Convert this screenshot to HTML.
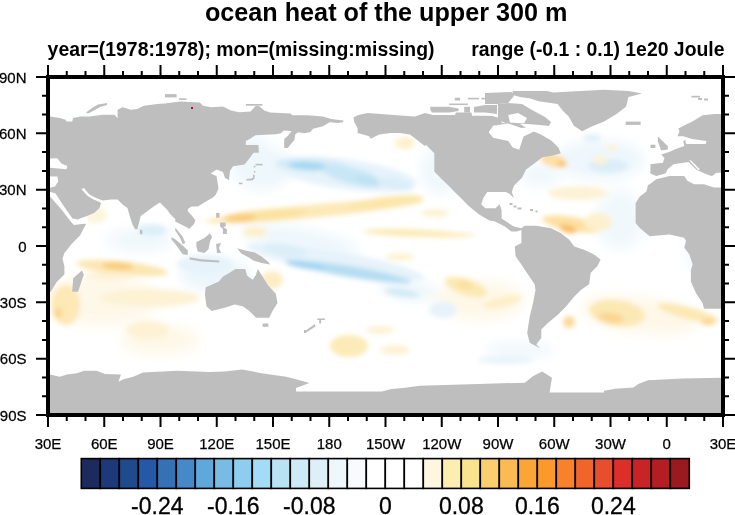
<!DOCTYPE html>
<html><head><meta charset="utf-8"><style>
html,body{margin:0;padding:0;background:#fff;width:735px;height:515px;overflow:hidden}
body{position:relative}
text{font-family:"Liberation Sans",sans-serif}
svg{will-change:transform}
.ax{font-size:15px;fill:#000;stroke:#000;stroke-width:0.25px}
.cb{font-size:23px;fill:#000;stroke:#000;stroke-width:0.3px}
.t1{font-size:25.2px;font-weight:bold;fill:#000}
.t2{font-size:19.4px;font-weight:bold;fill:#000}
</style></head><body>
<svg width="735" height="515" viewBox="0 0 735 515" style="position:absolute;left:0;top:0">
<defs><clipPath id="mc"><rect x="50" y="79" width="671" height="334"/></clipPath><filter id="bl" x="-50%" y="-50%" width="200%" height="200%"><feGaussianBlur stdDeviation="2.5"/></filter><filter id="bl2" x="-50%" y="-50%" width="200%" height="200%"><feGaussianBlur stdDeviation="6"/></filter></defs>
<g clip-path="url(#mc)">
<rect x="50" y="79" width="671" height="334" fill="#fff"/>
<g filter="url(#bl)">
<g filter="url(#bl2)">
<ellipse cx="262" cy="168" rx="30" ry="22" transform="rotate(0 262 168)" fill="#eef7fc"/>
<ellipse cx="245" cy="150" rx="25" ry="15" transform="rotate(0 245 150)" fill="#eef7fc"/>
<ellipse cx="300" cy="240" rx="60" ry="12" transform="rotate(10 300 240)" fill="#eef7fc"/>
<ellipse cx="215" cy="275" rx="35" ry="15" transform="rotate(0 215 275)" fill="#eaf5fb"/>
<ellipse cx="140" cy="240" rx="35" ry="12" transform="rotate(0 140 240)" fill="#f0f8fc"/>
<ellipse cx="620" cy="220" rx="25" ry="30" transform="rotate(0 620 220)" fill="#f1f8fc"/>
<ellipse cx="600" cy="160" rx="45" ry="20" transform="rotate(0 600 160)" fill="#eef7fc"/>
<ellipse cx="80" cy="128" rx="25" ry="5" transform="rotate(-10 80 128)" fill="#f0f8fc"/>
<ellipse cx="440" cy="170" rx="20" ry="25" transform="rotate(0 440 170)" fill="#f0f8fc"/>
<ellipse cx="520" cy="350" rx="35" ry="7" transform="rotate(0 520 350)" fill="#eef6fb"/>
<ellipse cx="700" cy="245" rx="15" ry="30" transform="rotate(0 700 245)" fill="#f2f8fc"/>
<ellipse cx="410" cy="290" rx="30" ry="10" transform="rotate(8 410 290)" fill="#eef7fc"/>
<ellipse cx="540" cy="175" rx="20" ry="12" transform="rotate(0 540 175)" fill="#f0f8fc"/>
<ellipse cx="100" cy="300" rx="60" ry="25" transform="rotate(0 100 300)" fill="#fef8e8"/>
<ellipse cx="160" cy="340" rx="40" ry="15" transform="rotate(0 160 340)" fill="#fef8e8"/>
<ellipse cx="480" cy="300" rx="45" ry="20" transform="rotate(0 480 300)" fill="#fef8e8"/>
<ellipse cx="640" cy="315" rx="60" ry="18" transform="rotate(8 640 315)" fill="#fef8e8"/>
</g>
<ellipse cx="345" cy="174" rx="72" ry="15" transform="rotate(8 345 174)" fill="#e6f3fb"/>
<ellipse cx="312" cy="165" rx="36" ry="6" transform="rotate(3 312 165)" fill="#d2ebf7"/>
<ellipse cx="308" cy="166" rx="20" ry="4" transform="rotate(3 308 166)" fill="#a5d6f1"/>
<ellipse cx="352" cy="176" rx="30" ry="8" transform="rotate(14 352 176)" fill="#c9e6f6"/>
<ellipse cx="368" cy="181" rx="14" ry="5" transform="rotate(12 368 181)" fill="#bfe2f4"/>
<ellipse cx="395" cy="184" rx="18" ry="6" transform="rotate(12 395 184)" fill="#dbeef8"/>
<ellipse cx="315" cy="211" rx="110" ry="6.5" transform="rotate(-5.5 315 211)" fill="#fce9b8"/>
<ellipse cx="265" cy="215" rx="42" ry="5.5" transform="rotate(-5 265 215)" fill="#fce2a0"/>
<ellipse cx="240" cy="218" rx="16" ry="4.5" transform="rotate(-3 240 218)" fill="#f9cd7c"/>
<ellipse cx="385" cy="202" rx="38" ry="5" transform="rotate(-7 385 202)" fill="#fce5a8"/>
<ellipse cx="413" cy="233" rx="50" ry="3.5" transform="rotate(2 413 233)" fill="#fce8b0"/>
<ellipse cx="445" cy="235" rx="30" ry="2.5" transform="rotate(0 445 235)" fill="#fcebb8"/>
<ellipse cx="400" cy="257" rx="15" ry="3" transform="rotate(0 400 257)" fill="#fdf0c8"/>
<ellipse cx="255" cy="232" rx="12" ry="5" transform="rotate(0 255 232)" fill="#fdf0c8"/>
<ellipse cx="335" cy="262" rx="90" ry="11" transform="rotate(10 335 262)" fill="#e6f3fa"/>
<ellipse cx="352" cy="272" rx="60" ry="5.5" transform="rotate(9.5 352 272)" fill="#b5ddf2"/>
<ellipse cx="305" cy="265" rx="20" ry="3.5" transform="rotate(9 305 265)" fill="#a2d4f0"/>
<ellipse cx="285" cy="250" rx="22" ry="6" transform="rotate(10 285 250)" fill="#dceef8"/>
<ellipse cx="402" cy="293" rx="18" ry="4" transform="rotate(8 402 293)" fill="#d3eaf6"/>
<ellipse cx="122" cy="268" rx="46" ry="6.5" transform="rotate(6 122 268)" fill="#fce6b0"/>
<ellipse cx="118" cy="266" rx="16" ry="4" transform="rotate(4 118 266)" fill="#f9cd7a"/>
<ellipse cx="152" cy="230" rx="15" ry="6" transform="rotate(0 152 230)" fill="#ddeff9"/>
<ellipse cx="205" cy="264" rx="28" ry="9" transform="rotate(0 205 264)" fill="#e6f3fa"/>
<ellipse cx="150" cy="298" rx="50" ry="9" transform="rotate(0 150 298)" fill="#fdf2d4"/>
<ellipse cx="66" cy="305" rx="14" ry="20" transform="rotate(0 66 305)" fill="#fde8b6"/>
<ellipse cx="58" cy="313" rx="4" ry="5" transform="rotate(0 58 313)" fill="#fad38a"/>
<ellipse cx="148" cy="330" rx="22" ry="9" transform="rotate(0 148 330)" fill="#fdf2d4"/>
<ellipse cx="272" cy="280" rx="11" ry="9" transform="rotate(0 272 280)" fill="#fdedc4"/>
<ellipse cx="110" cy="276" rx="25" ry="4" transform="rotate(0 110 276)" fill="#fdf2d4"/>
<ellipse cx="95" cy="215" rx="12" ry="8" transform="rotate(0 95 215)" fill="#fdf4dc"/>
<ellipse cx="349" cy="346" rx="19" ry="11" transform="rotate(0 349 346)" fill="#fcebb6"/>
<ellipse cx="466" cy="287" rx="22" ry="8" transform="rotate(18 466 287)" fill="#fce9b4"/>
<ellipse cx="465" cy="285" rx="8" ry="4" transform="rotate(10 465 285)" fill="#fbdf9e"/>
<ellipse cx="502" cy="302" rx="20" ry="5" transform="rotate(-12 502 302)" fill="#fdefc6"/>
<ellipse cx="443" cy="310" rx="14" ry="8" transform="rotate(0 443 310)" fill="#e6f3fa"/>
<ellipse cx="505" cy="360" rx="28" ry="4" transform="rotate(0 505 360)" fill="#e8f4fb"/>
<ellipse cx="380" cy="330" rx="14" ry="4" transform="rotate(0 380 330)" fill="#fdf2d4"/>
<ellipse cx="395" cy="350" rx="15" ry="5" transform="rotate(0 395 350)" fill="#fdf2d4"/>
<ellipse cx="405" cy="143" rx="10" ry="6" transform="rotate(0 405 143)" fill="#fdf0cc"/>
<ellipse cx="435" cy="213" rx="14" ry="3.5" transform="rotate(0 435 213)" fill="#fdf0cc"/>
<ellipse cx="553" cy="160" rx="13" ry="7" transform="rotate(15 553 160)" fill="#fce0a6"/>
<ellipse cx="562" cy="164" rx="5" ry="3" transform="rotate(0 562 164)" fill="#f8bf62"/>
<ellipse cx="608" cy="166" rx="20" ry="7" transform="rotate(0 608 166)" fill="#dcedf8"/>
<ellipse cx="592" cy="138" rx="9" ry="4" transform="rotate(0 592 138)" fill="#e2f0f9"/>
<ellipse cx="578" cy="193" rx="30" ry="7" transform="rotate(0 578 193)" fill="#fdf2d6"/>
<ellipse cx="572" cy="224" rx="30" ry="7" transform="rotate(10 572 224)" fill="#fce0a2"/>
<ellipse cx="568" cy="229" rx="9" ry="3.5" transform="rotate(15 568 229)" fill="#f8b85a"/>
<ellipse cx="598" cy="222" rx="14" ry="9" transform="rotate(0 598 222)" fill="#fdf0cc"/>
<ellipse cx="617" cy="313" rx="28" ry="13" transform="rotate(8 617 313)" fill="#fce8b4"/>
<ellipse cx="611" cy="318" rx="13" ry="5" transform="rotate(8 611 318)" fill="#fad692"/>
<ellipse cx="688" cy="313" rx="32" ry="6" transform="rotate(15 688 313)" fill="#fce8b4"/>
<ellipse cx="708" cy="322" rx="7" ry="3" transform="rotate(0 708 322)" fill="#faD38a"/>
<ellipse cx="569" cy="322" rx="6" ry="6" transform="rotate(0 569 322)" fill="#fbd998"/>
<ellipse cx="600" cy="160" rx="8" ry="4" transform="rotate(0 600 160)" fill="#fdf2d4"/>
<ellipse cx="612" cy="148" rx="6" ry="3" transform="rotate(0 612 148)" fill="#fdf2d4"/>
</g>
<path d="M49.0,116.4 L59.9,118.1 L65.6,119.7 L66.5,121.4 L72.2,121.4 L73.1,118.1 L80.5,116.4 L89.6,116.4 L102.8,114.8 L114.3,114.8 L117.6,118.1 L117.6,109.8 L122.6,107.3 L130.8,109.8 L137.4,109.0 L144.0,105.7 L157.2,104.0 L165.0,103.6 L179.9,101.6 L199.7,102.4 L203.0,105.7 L211.2,107.3 L222.8,106.5 L231.0,110.6 L239.3,112.3 L250.7,111.5 L255.5,106.0 L259.0,106.0 L264.3,110.5 L270.1,112.4 L290.5,113.4 L292.4,115.3 L308.0,115.3 L323.0,116.4 L331.2,118.9 L343.6,120.5 L342.8,122.2 L337.8,123.0 L329.6,122.2 L323.0,126.3 L313.1,128.8 L310.0,132.3 L304.1,133.3 L298.3,132.3 L295.3,134.3 L294.4,140.1 L287.6,147.9 L284.2,147.9 L284.2,139.1 L288.5,135.2 L291.5,130.9 L283.7,130.4 L280.8,133.3 L275.9,134.3 L255.5,135.2 L249.7,139.1 L245.8,141.1 L245.8,145.0 L258.4,145.0 L258.9,152.7 L253.6,152.7 L249.7,158.0 L244.6,164.6 L233.0,166.2 L230.0,171.0 L229.0,180.0 L225.0,178.0 L223.0,172.0 L216.5,169.5 L210.7,173.6 L216.5,176.1 L218.5,188.8 L215.6,195.0 L213.0,197.5 L204.2,202.6 L197.9,206.4 L191.6,206.4 L187.8,208.9 L187.8,211.4 L191.6,215.2 L195.4,220.3 L194.1,224.0 L189.0,229.1 L187.8,227.8 L180.2,224.0 L175.2,221.5 L175.2,219.0 L170.1,214.0 L167.6,210.2 L160.0,202.6 L154.0,206.2 L147.3,211.2 L140.7,216.1 L137.4,229.3 L135.0,229.3 L132.5,224.4 L129.2,214.5 L127.5,207.9 L122.6,204.6 L117.6,199.6 L111.0,199.6 L102.8,200.4 L96.2,198.0 L89.6,194.7 L83.8,188.1 L81.3,188.9 L87.1,195.5 L92.0,198.8 L97.8,201.3 L101.1,202.9 L99.5,207.9 L94.5,212.8 L84.6,217.0 L78.0,219.5 L86.0,223.9 L80.0,235.5 L72.2,243.3 L64.4,253.0 L62.5,258.8 L64.4,266.6 L64.4,274.4 L56.7,282.1 L50.8,291.8 L49.0,292.0Z" fill="#bebebe"/>
<path d="M139.9,229.3 L142.4,230.5 L142.4,234.3 L140.0,234.3Z" fill="#bebebe"/>
<path d="M81.9,270.5 L83.8,274.4 L80.0,286.0 L78.0,291.8 L72.2,291.8 L73.2,278.3Z" fill="#bebebe"/>
<path d="M171.4,237.3 L175.2,239.2 L182.7,245.5 L187.8,250.6 L187.8,255.0 L182.7,254.3 L176.4,245.5 L171.4,239.2Z" fill="#bebebe"/>
<path d="M175.2,227.8 L177.7,230.4 L182.7,236.7 L185.3,243.0 L182.7,244.2 L180.2,237.9 L175.2,230.4Z" fill="#bebebe"/>
<path d="M196.4,242.1 L204.5,238.0 L209.9,233.3 L212.0,236.7 L209.9,242.1 L208.6,248.9 L204.5,253.0 L197.7,251.6 L196.4,246.2Z" fill="#bebebe"/>
<path d="M189.6,257.2 L201.2,259.2 L219.3,260.6 L219.3,262.6 L201.2,261.4 L189.6,259.4Z" fill="#bebebe"/>
<path d="M216.0,244.0 L221.0,243.0 L219.0,248.0 L221.0,253.0 L217.0,253.0Z" fill="#bebebe"/>
<path d="M237.1,248.2 L245.3,250.5 L254.8,252.5 L261.6,256.5 L268.4,262.0 L270.0,264.5 L261.6,263.0 L253.4,260.5 L248.0,257.0 L241.2,253.5Z" fill="#bebebe"/>
<path d="M216.1,212.9 L219.5,212.9 L219.5,217.7 L216.1,217.7Z" fill="#bebebe"/>
<path d="M220.1,222.4 L225.6,222.4 L225.6,226.5 L223.0,227.0 L226.9,229.2 L226.9,234.0 L222.9,234.0 L222.9,229.0 L220.1,226.5Z" fill="#bebebe"/>
<path d="M255.6,163.8 L262.6,163.8 L262.6,165.4 L255.6,165.4Z" fill="#bebebe"/>
<path d="M253.0,174.8 L254.6,174.8 L254.6,178.5 L252.2,180.6 L246.3,180.6 L246.3,178.9 L251.5,178.6 L253.0,177.5Z" fill="#bebebe"/>
<path d="M238.9,182.6 L242.4,182.6 L242.4,184.2 L238.9,184.2Z" fill="#bebebe"/>
<path d="M253.8,165.8 L255.4,165.8 L255.4,167.4 L253.8,167.4Z" fill="#bebebe"/>
<path d="M253.9,171.0 L255.3,171.0 L255.3,172.6 L253.9,172.6Z" fill="#bebebe"/>
<path d="M205.7,287.2 L211.5,284.7 L218.9,281.4 L223.0,276.5 L228.8,273.2 L235.4,269.0 L245.3,269.0 L247.0,275.6 L252.7,279.8 L256.0,274.8 L257.7,269.0 L262.6,276.5 L267.6,284.7 L275.8,293.8 L277.5,302.9 L272.5,311.1 L269.2,317.7 L256.0,317.7 L249.4,311.1 L242.8,306.2 L234.6,304.5 L224.7,307.8 L211.5,311.1 L206.5,306.2 L204.9,294.6Z" fill="#bebebe"/>
<path d="M262.6,323.5 L268.4,323.5 L268.4,326.8 L262.6,326.8Z" fill="#bebebe"/>
<path d="M304.1,331.7 L314.8,324.1 L315.5,326.6 L306.6,332.3Z" fill="#bebebe"/>
<path d="M317.3,318.4 L324.9,318.4 L324.9,319.9 L321.1,320.0 L321.1,323.5 L319.2,323.5 L319.2,319.9 L317.3,319.9Z" fill="#bebebe"/>
<path d="M304.0,330.0 L306.0,330.0 L306.0,333.0 L304.0,333.0Z" fill="#bebebe"/>
<path d="M49.0,374.4 L59.7,376.8 L67.0,374.4 L76.8,373.2 L84.2,370.7 L96.4,370.7 L105.0,373.9 L120.9,374.4 L118.5,381.7 L123.4,379.3 L133.2,376.8 L143.0,372.4 L177.3,370.7 L209.1,371.9 L225.0,371.4 L242.1,369.5 L261.7,373.2 L286.2,376.8 L296.0,379.3 L309.5,383.0 L296.0,387.9 L296.0,391.5 L381.7,391.5 L391.5,389.1 L405.0,387.8 L419.7,385.8 L478.5,383.9 L525.0,382.7 L532.4,376.5 L542.2,371.6 L552.0,377.8 L549.5,392.5 L604.0,392.5 L604.0,390.7 L615.0,388.8 L633.4,387.6 L638.3,383.9 L648.1,380.2 L682.4,378.5 L722.0,377.8 L722.0,414.0 L49.0,414.0Z" fill="#bebebe"/>
<path d="M353.5,117.2 L359.3,114.8 L367.5,113.1 L380.7,113.9 L400.0,115.5 L414.9,116.4 L425.0,113.0 L433.0,115.0 L455.0,115.0 L456.0,112.5 L471.5,112.5 L472.0,115.8 L485.0,115.8 L492.4,116.0 L499.0,118.0 L502.3,123.0 L520.0,124.0 L530.1,130.0 L541.0,134.4 L551.8,140.9 L558.4,147.5 L560.8,153.2 L552.0,155.8 L542.4,157.2 L534.3,163.4 L526.1,169.5 L522.0,177.7 L513.9,185.8 L511.8,191.9 L513.9,198.1 L509.8,194.0 L505.7,191.9 L487.3,191.9 L483.3,198.1 L481.2,204.2 L485.3,208.3 L495.5,208.3 L499.6,204.2 L501.6,210.3 L501.6,218.5 L507.8,222.6 L513.9,226.6 L521.4,228.2 L524.7,225.7 L536.3,225.7 L551.1,228.2 L561.0,233.2 L569.3,239.8 L574.2,246.4 L584.1,249.7 L594.0,254.6 L600.6,259.6 L597.3,266.2 L590.7,272.8 L589.1,284.3 L580.9,290.0 L574.3,296.6 L566.0,306.5 L557.8,314.8 L547.9,323.0 L541.3,329.6 L541.3,337.9 L536.3,344.5 L540.4,348.6 L529.7,342.8 L527.2,332.9 L529.7,316.4 L533.0,303.2 L535.5,290.0 L534.6,284.3 L528.0,274.4 L521.4,264.5 L515.6,256.3 L514.8,246.4 L521.4,243.1 L521.4,229.9 L516.5,231.5 L511.5,231.5 L504.9,226.6 L495.0,221.6 L489.4,220.5 L479.2,214.4 L469.0,206.2 L462.9,200.1 L454.7,191.9 L448.6,185.8 L440.4,177.7 L434.3,171.5 L434.3,153.2 L426.1,145.0 L424.8,146.1 L416.5,139.5 L409.9,134.5 L400.0,132.9 L390.6,132.9 L379.1,134.6 L374.1,137.0 L370.8,138.7 L369.2,136.2 L357.6,132.9 L357.6,128.0 L354.3,122.2Z" fill="#bebebe"/>
<path d="M498.0,104.0 L508.0,103.0 L522.0,104.0 L532.0,110.0 L545.0,117.0 L551.0,122.0 L549.0,126.0 L540.0,125.0 L527.0,124.0 L508.0,124.0 L498.0,120.0Z" fill="#bebebe"/>
<path d="M485.0,93.0 L512.0,92.0 L514.0,96.0 L508.0,103.0 L498.0,104.0 L485.0,104.0Z" fill="#bebebe"/>
<path d="M430.3,106.8 L449.0,106.8 L458.5,108.5 L458.5,111.0 L449.0,112.5 L432.0,112.5 L430.3,110.0Z" fill="#bebebe"/>
<path d="M464.2,106.8 L470.0,106.8 L470.0,112.5 L464.2,112.5Z" fill="#bebebe"/>
<path d="M474.0,107.0 L485.0,105.0 L497.0,105.0 L497.0,114.0 L485.0,112.5 L474.0,112.5Z" fill="#bebebe"/>
<path d="M449.1,103.5 L467.9,103.5 L467.9,105.1 L449.1,105.1Z" fill="#bebebe"/>
<path d="M454.8,97.8 L460.1,97.8 L460.1,100.5 L454.8,100.5Z" fill="#bebebe"/>
<path d="M467.9,97.8 L478.9,97.8 L478.9,99.4 L467.9,99.4Z" fill="#bebebe"/>
<path d="M481.3,97.8 L485.0,97.8 L485.0,99.4 L481.3,99.4Z" fill="#bebebe"/>
<path d="M512.7,91.1 L546.7,91.1 L553.5,92.5 L604.0,89.7 L628.5,90.9 L642.0,93.4 L628.5,97.0 L626.0,106.8 L616.2,114.2 L604.0,121.5 L591.7,126.4 L582.1,131.3 L573.9,125.8 L568.5,116.3 L563.0,110.9 L557.6,104.0 L538.5,101.3 L530.4,98.6 L520.0,97.0 L512.7,95.0Z" fill="#bebebe"/>
<path d="M625.7,121.6 L640.6,121.6 L640.6,124.9 L625.7,124.9Z" fill="#bebebe"/>
<path d="M691.5,95.8 L700.0,95.8 L700.0,97.5 L691.5,97.5Z" fill="#bebebe"/>
<path d="M698.0,98.0 L702.0,98.0 L702.0,100.0 L698.0,100.0Z" fill="#bebebe"/>
<path d="M704.0,98.5 L708.0,98.5 L708.0,100.5 L704.0,100.5Z" fill="#bebebe"/>
<path d="M86.0,112.5 L92.0,108.0 L98.0,104.5 L107.0,103.0 L107.0,105.0 L100.0,107.0 L94.0,110.5 L88.0,113.5Z" fill="#bebebe"/>
<path d="M165.0,94.1 L176.6,94.1 L176.6,97.4 L165.0,97.4Z" fill="#bebebe"/>
<path d="M179.0,98.3 L186.5,98.3 L186.5,99.9 L179.0,99.9Z" fill="#bebebe"/>
<path d="M245.9,104.0 L262.4,104.0 L262.4,105.7 L245.9,105.7Z" fill="#bebebe"/>
<path d="M722.0,113.9 L714.4,113.9 L702.7,115.3 L692.0,121.7 L686.2,124.6 L678.4,128.4 L679.4,131.4 L677.5,136.2 L683.3,136.2 L692.0,139.1 L706.6,141.1 L705.6,144.0 L686.2,144.0 L685.2,140.1 L683.3,141.1 L684.3,145.9 L676.5,148.8 L669.7,151.7 L661.2,154.6 L664.5,157.9 L662.9,162.8 L650.4,164.3 L650.4,173.5 L656.2,175.9 L665.4,173.5 L667.8,168.9 L673.5,164.3 L688.6,162.0 L696.7,170.1 L704.8,173.5 L708.2,175.0 L710.0,175.5 L712.0,176.0 L716.0,173.0 L722.0,172.5Z" fill="#bebebe"/>
<path d="M657.9,136.4 L661.2,139.7 L667.8,146.3 L667.8,149.6 L661.2,150.4 L659.6,146.3 L657.9,141.4Z" fill="#bebebe"/>
<path d="M650.5,144.7 L655.4,144.7 L655.4,148.0 L650.5,148.0Z" fill="#bebebe"/>
<path d="M722.0,187.6 L714.0,187.6 L704.1,184.3 L694.2,184.3 L687.6,181.0 L684.3,176.0 L669.5,176.0 L656.3,179.3 L649.7,184.3 L648.0,185.0 L646.4,191.6 L639.8,196.6 L635.6,203.2 L635.6,223.0 L639.8,227.9 L649.7,236.2 L669.5,234.5 L684.3,237.8 L686.0,241.1 L684.3,247.7 L689.3,254.3 L692.6,264.2 L690.9,269.9 L690.9,281.5 L695.9,293.0 L702.5,302.9 L704.1,308.7 L722.0,308.7Z" fill="#bebebe"/>
<path d="M509.5,203.0 L512.5,203.0 L512.5,205.0 L509.5,205.0Z" fill="#bebebe"/>
<path d="M513.5,205.5 L516.5,205.5 L516.5,207.5 L513.5,207.5Z" fill="#bebebe"/>
<path d="M517.5,207.5 L521.5,207.5 L521.5,209.5 L517.5,209.5Z" fill="#bebebe"/>
<path d="M530.0,209.0 L533.0,209.0 L533.0,211.0 L530.0,211.0Z" fill="#bebebe"/>
<path d="M535.5,210.5 L537.5,210.5 L537.5,212.5 L535.5,212.5Z" fill="#bebebe"/>
<path d="M49.0,158.5 L57.2,158.3 L61.5,163.5 L67.3,165.9 L66.5,169.2 L49.0,167.6Z" fill="#fff"/>
<path d="M49.0,176.5 L57.4,176.5 L58.2,181.5 L54.9,186.4 L49.0,188.1Z" fill="#fff"/>
<path d="M49.0,191.5 L55.5,193.5 L64.0,206.5 L72.5,218.5 L78.0,219.5 L86.0,216.5 L88.0,219.5 L86.0,223.5 L74.0,225.0 L71.0,222.0 L61.5,209.5 L49.0,195.5Z" fill="#fff"/>
<path d="M689.2,160.3 L690.8,160.3 L699.8,169.2 L698.4,170.2Z" fill="#fff"/>
<path d="M488.7,132.2 L493.1,125.7 L508.3,123.5 L521.4,127.9 L530.0,127.0 L535.0,131.0 L523.5,136.6 L519.2,149.7 L512.7,147.5 L508.3,141.0 L493.1,137.7Z" fill="#fff"/>
<path d="M508.2,115.0 L518.0,113.0 L527.0,118.0 L524.0,123.5 L510.0,122.5Z" fill="#fff"/>
<rect x="191" y="107" width="2" height="2" fill="#c8102e"/>
</g>
<rect x="48" y="77" width="675" height="338" fill="none" stroke="#000" stroke-width="4"/>
<path d="M48.00,65.0 V77.0 M48.00,415.0 V427.0 M66.75,71.0 V77.0 M66.75,415.0 V421.0 M85.50,71.0 V77.0 M85.50,415.0 V421.0 M104.25,65.0 V77.0 M104.25,415.0 V427.0 M123.00,71.0 V77.0 M123.00,415.0 V421.0 M141.75,71.0 V77.0 M141.75,415.0 V421.0 M160.50,65.0 V77.0 M160.50,415.0 V427.0 M179.25,71.0 V77.0 M179.25,415.0 V421.0 M198.00,71.0 V77.0 M198.00,415.0 V421.0 M216.75,65.0 V77.0 M216.75,415.0 V427.0 M235.50,71.0 V77.0 M235.50,415.0 V421.0 M254.25,71.0 V77.0 M254.25,415.0 V421.0 M273.00,65.0 V77.0 M273.00,415.0 V427.0 M291.75,71.0 V77.0 M291.75,415.0 V421.0 M310.50,71.0 V77.0 M310.50,415.0 V421.0 M329.25,65.0 V77.0 M329.25,415.0 V427.0 M348.00,71.0 V77.0 M348.00,415.0 V421.0 M366.75,71.0 V77.0 M366.75,415.0 V421.0 M385.50,65.0 V77.0 M385.50,415.0 V427.0 M404.25,71.0 V77.0 M404.25,415.0 V421.0 M423.00,71.0 V77.0 M423.00,415.0 V421.0 M441.75,65.0 V77.0 M441.75,415.0 V427.0 M460.50,71.0 V77.0 M460.50,415.0 V421.0 M479.25,71.0 V77.0 M479.25,415.0 V421.0 M498.00,65.0 V77.0 M498.00,415.0 V427.0 M516.75,71.0 V77.0 M516.75,415.0 V421.0 M535.50,71.0 V77.0 M535.50,415.0 V421.0 M554.25,65.0 V77.0 M554.25,415.0 V427.0 M573.00,71.0 V77.0 M573.00,415.0 V421.0 M591.75,71.0 V77.0 M591.75,415.0 V421.0 M610.50,65.0 V77.0 M610.50,415.0 V427.0 M629.25,71.0 V77.0 M629.25,415.0 V421.0 M648.00,71.0 V77.0 M648.00,415.0 V421.0 M666.75,65.0 V77.0 M666.75,415.0 V427.0 M685.50,71.0 V77.0 M685.50,415.0 V421.0 M704.25,71.0 V77.0 M704.25,415.0 V421.0 M723.00,65.0 V77.0 M723.00,415.0 V427.0 M36.0,415.00 H48.0 M723.0,415.00 H735.0 M42.0,396.22 H48.0 M723.0,396.22 H729.0 M42.0,377.44 H48.0 M723.0,377.44 H729.0 M36.0,358.67 H48.0 M723.0,358.67 H735.0 M42.0,339.89 H48.0 M723.0,339.89 H729.0 M42.0,321.11 H48.0 M723.0,321.11 H729.0 M36.0,302.33 H48.0 M723.0,302.33 H735.0 M42.0,283.56 H48.0 M723.0,283.56 H729.0 M42.0,264.78 H48.0 M723.0,264.78 H729.0 M36.0,246.00 H48.0 M723.0,246.00 H735.0 M42.0,227.22 H48.0 M723.0,227.22 H729.0 M42.0,208.44 H48.0 M723.0,208.44 H729.0 M36.0,189.67 H48.0 M723.0,189.67 H735.0 M42.0,170.89 H48.0 M723.0,170.89 H729.0 M42.0,152.11 H48.0 M723.0,152.11 H729.0 M36.0,133.33 H48.0 M723.0,133.33 H735.0 M42.0,114.56 H48.0 M723.0,114.56 H729.0 M42.0,95.78 H48.0 M723.0,95.78 H729.0 M36.0,77.00 H48.0 M723.0,77.00 H735.0" stroke="#000" stroke-width="2" fill="none"/>
<text transform="translate(48.00,449.3) scale(1,1.0)" text-anchor="middle" class="ax">30E</text>
<text transform="translate(104.25,449.3) scale(1,1.0)" text-anchor="middle" class="ax">60E</text>
<text transform="translate(160.50,449.3) scale(1,1.0)" text-anchor="middle" class="ax">90E</text>
<text transform="translate(216.75,449.3) scale(1,1.0)" text-anchor="middle" class="ax">120E</text>
<text transform="translate(273.00,449.3) scale(1,1.0)" text-anchor="middle" class="ax">150E</text>
<text transform="translate(329.25,449.3) scale(1,1.0)" text-anchor="middle" class="ax">180</text>
<text transform="translate(385.50,449.3) scale(1,1.0)" text-anchor="middle" class="ax">150W</text>
<text transform="translate(441.75,449.3) scale(1,1.0)" text-anchor="middle" class="ax">120W</text>
<text transform="translate(498.00,449.3) scale(1,1.0)" text-anchor="middle" class="ax">90W</text>
<text transform="translate(554.25,449.3) scale(1,1.0)" text-anchor="middle" class="ax">60W</text>
<text transform="translate(610.50,449.3) scale(1,1.0)" text-anchor="middle" class="ax">30W</text>
<text transform="translate(666.75,449.3) scale(1,1.0)" text-anchor="middle" class="ax">0</text>
<text transform="translate(723.00,449.3) scale(1,1.0)" text-anchor="middle" class="ax">30E</text>
<text transform="translate(26.5,82.60) scale(1,1.03)" text-anchor="end" class="ax">90N</text>
<text transform="translate(26.5,138.93) scale(1,1.03)" text-anchor="end" class="ax">60N</text>
<text transform="translate(26.5,195.27) scale(1,1.03)" text-anchor="end" class="ax">30N</text>
<text transform="translate(26.5,251.60) scale(1,1.03)" text-anchor="end" class="ax">0</text>
<text transform="translate(26.5,307.93) scale(1,1.03)" text-anchor="end" class="ax">30S</text>
<text transform="translate(26.5,364.27) scale(1,1.03)" text-anchor="end" class="ax">60S</text>
<text transform="translate(26.5,420.60) scale(1,1.03)" text-anchor="end" class="ax">90S</text>
<rect x="81.30" y="458.6" width="19.00" height="29.8" fill="#1c2a5e" stroke="#000" stroke-width="1.6"/>
<rect x="100.30" y="458.6" width="19.00" height="29.8" fill="#1c3a7a" stroke="#000" stroke-width="1.6"/>
<rect x="119.30" y="458.6" width="19.00" height="29.8" fill="#1f4a8c" stroke="#000" stroke-width="1.6"/>
<rect x="138.30" y="458.6" width="19.00" height="29.8" fill="#2558a6" stroke="#000" stroke-width="1.6"/>
<rect x="157.30" y="458.6" width="19.00" height="29.8" fill="#3571b5" stroke="#000" stroke-width="1.6"/>
<rect x="176.30" y="458.6" width="19.00" height="29.8" fill="#4589c8" stroke="#000" stroke-width="1.6"/>
<rect x="195.30" y="458.6" width="19.00" height="29.8" fill="#5fa8dc" stroke="#000" stroke-width="1.6"/>
<rect x="214.30" y="458.6" width="19.00" height="29.8" fill="#78bce6" stroke="#000" stroke-width="1.6"/>
<rect x="233.30" y="458.6" width="19.00" height="29.8" fill="#8ecdf0" stroke="#000" stroke-width="1.6"/>
<rect x="252.30" y="458.6" width="19.00" height="29.8" fill="#a3dcf5" stroke="#000" stroke-width="1.6"/>
<rect x="271.30" y="458.6" width="19.00" height="29.8" fill="#b8e3f5" stroke="#000" stroke-width="1.6"/>
<rect x="290.30" y="458.6" width="19.00" height="29.8" fill="#cdebf7" stroke="#000" stroke-width="1.6"/>
<rect x="309.30" y="458.6" width="19.00" height="29.8" fill="#ddf0f8" stroke="#000" stroke-width="1.6"/>
<rect x="328.30" y="458.6" width="19.00" height="29.8" fill="#eef7fc" stroke="#000" stroke-width="1.6"/>
<rect x="347.30" y="458.6" width="19.00" height="29.8" fill="#f8fbfe" stroke="#000" stroke-width="1.6"/>
<rect x="366.30" y="458.6" width="19.00" height="29.8" fill="#ffffff" stroke="#000" stroke-width="1.6"/>
<rect x="385.30" y="458.6" width="19.00" height="29.8" fill="#ffffff" stroke="#000" stroke-width="1.6"/>
<rect x="404.30" y="458.6" width="19.00" height="29.8" fill="#ffffff" stroke="#000" stroke-width="1.6"/>
<rect x="423.30" y="458.6" width="19.00" height="29.8" fill="#fef6df" stroke="#000" stroke-width="1.6"/>
<rect x="442.30" y="458.6" width="19.00" height="29.8" fill="#fcedb0" stroke="#000" stroke-width="1.6"/>
<rect x="461.30" y="458.6" width="19.00" height="29.8" fill="#fae38f" stroke="#000" stroke-width="1.6"/>
<rect x="480.30" y="458.6" width="19.00" height="29.8" fill="#fbce6e" stroke="#000" stroke-width="1.6"/>
<rect x="499.30" y="458.6" width="19.00" height="29.8" fill="#fcbb52" stroke="#000" stroke-width="1.6"/>
<rect x="518.30" y="458.6" width="19.00" height="29.8" fill="#fba535" stroke="#000" stroke-width="1.6"/>
<rect x="537.30" y="458.6" width="19.00" height="29.8" fill="#fb9a2a" stroke="#000" stroke-width="1.6"/>
<rect x="556.30" y="458.6" width="19.00" height="29.8" fill="#f8822b" stroke="#000" stroke-width="1.6"/>
<rect x="575.30" y="458.6" width="19.00" height="29.8" fill="#f1652a" stroke="#000" stroke-width="1.6"/>
<rect x="594.30" y="458.6" width="19.00" height="29.8" fill="#e84e2c" stroke="#000" stroke-width="1.6"/>
<rect x="613.30" y="458.6" width="19.00" height="29.8" fill="#dc2e2a" stroke="#000" stroke-width="1.6"/>
<rect x="632.30" y="458.6" width="19.00" height="29.8" fill="#c92227" stroke="#000" stroke-width="1.6"/>
<rect x="651.30" y="458.6" width="19.00" height="29.8" fill="#b31d23" stroke="#000" stroke-width="1.6"/>
<rect x="670.30" y="458.6" width="19.00" height="29.8" fill="#9a1a1f" stroke="#000" stroke-width="1.6"/>
<text x="157.30" y="513.9" text-anchor="middle" class="cb">-0.24</text>
<text x="233.30" y="513.9" text-anchor="middle" class="cb">-0.16</text>
<text x="309.30" y="513.9" text-anchor="middle" class="cb">-0.08</text>
<text x="385.30" y="513.9" text-anchor="middle" class="cb">0</text>
<text x="461.30" y="513.9" text-anchor="middle" class="cb">0.08</text>
<text x="537.30" y="513.9" text-anchor="middle" class="cb">0.16</text>
<text x="613.30" y="513.9" text-anchor="middle" class="cb">0.24</text>
<text x="386.2" y="21.2" text-anchor="middle" class="t1">ocean heat of the upper 300 m</text>
<text x="47.6" y="56" class="t2">year=(1978:1978); mon=(missing:missing)</text>
<text x="724.5" y="56" text-anchor="end" class="t2">range (-0.1 : 0.1) 1e20 Joule</text>
</svg>
</body></html>
